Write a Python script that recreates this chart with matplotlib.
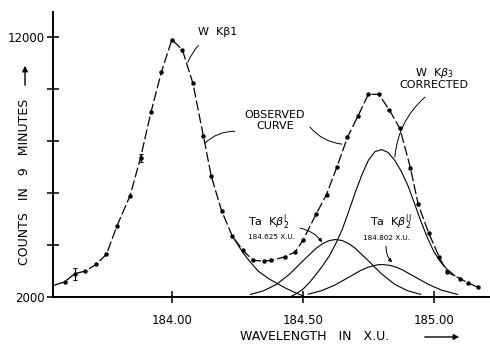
import numpy as np
import matplotlib.pyplot as plt

plt.rcParams['font.family'] = 'DejaVu Sans'
plt.rcParams['mathtext.fontset'] = 'dejavusans'

# observed curve (counts in 9 minutes vs wavelength in x.u.)
obs_x = [183.55, 183.59, 183.63, 183.67, 183.71, 183.75, 183.79, 183.84, 183.88,
         183.92, 183.96, 184.00, 184.04, 184.08, 184.12, 184.15, 184.19, 184.23,
         184.27, 184.31, 184.35, 184.38, 184.43, 184.47, 184.50, 184.55, 184.59,
         184.63, 184.67, 184.71, 184.75, 184.79, 184.83, 184.87, 184.91, 184.94,
         184.98, 185.02, 185.05, 185.10, 185.13, 185.17]
obs_y = [2450, 2580, 2900, 3000, 3250, 3640, 4730, 5890, 7350,
         9110, 10660, 11900, 11500, 10220, 8190, 6650, 5300, 4350,
         3800, 3410, 3380, 3410, 3540, 3730, 4180, 5180, 5940,
         7010, 8140, 8960, 9800, 9790, 9190, 8480, 6980, 5560,
         4460, 3540, 2960, 2710, 2540, 2370]

# error bars
err_x = [183.63, 183.88]
err_y = [2900, 7350]
err_h = [230, 160]

# W K-beta1 tail (solid)
kb1_x = [184.23, 184.27, 184.30, 184.33, 184.37, 184.43, 184.47, 184.50]
kb1_y = [4350, 3720, 3330, 2990, 2700, 2360, 2170, 2040]

# W K-beta3 corrected
kb3_x = [184.45, 184.475, 184.50, 184.525, 184.55, 184.575, 184.60, 184.625,
         184.65, 184.675, 184.70, 184.725, 184.75, 184.775, 184.80, 184.825,
         184.85, 184.875, 184.90, 184.925, 184.95, 184.975, 185.00, 185.025,
         185.05, 185.08]
kb3_y = [2000, 2130, 2300, 2560, 2870, 3200, 3570, 4040,
         4600, 5300, 6030, 6700, 7260, 7590, 7670, 7560,
         7260, 6840, 6300, 5620, 4920, 4280, 3740, 3350,
         3070, 2820]

# Ta K-beta2 I
ta1_x = [184.30, 184.35, 184.40, 184.45, 184.50, 184.55, 184.575, 184.60, 184.625,
         184.65, 184.675, 184.70, 184.75, 184.80, 184.85, 184.90, 184.95]
ta1_y = [2100, 2240, 2490, 2890, 3390, 3870, 4050, 4170, 4210,
         4170, 4050, 3870, 3390, 2890, 2490, 2240, 2100]

# Ta K-beta2 II
ta2_x = [184.52, 184.57, 184.62, 184.67, 184.72, 184.75, 184.78, 184.80, 184.83,
         184.86, 184.88, 184.93, 184.98, 185.03, 185.09]
ta2_y = [2110, 2240, 2450, 2730, 3020, 3150, 3230, 3250, 3220,
         3130, 3040, 2760, 2480, 2260, 2100]

fig = plt.figure(figsize=(4.9, 3.47), dpi=100)
ax = fig.add_axes([53/490, 50/347, 437/490, 285/347])

ax.plot(obs_x, obs_y, color='black', lw=0.9, ls=(0, (8, 2.5)),
        marker='o', ms=2.2, markevery=list(range(1, len(obs_x))))
ax.errorbar(err_x, err_y, yerr=err_h, fmt='none', ecolor='black',
            elinewidth=0.8, capsize=1.5, capthick=0.8)
ax.plot(kb1_x, kb1_y, color='black', lw=0.8)
ax.plot(kb3_x, kb3_y, color='black', lw=0.8)
ax.plot(ta1_x, ta1_y, color='black', lw=0.8)
ax.plot(ta2_x, ta2_y, color='black', lw=0.8)

ax.set_xlim(183.546, 185.214)
ax.set_ylim(2000, 12960)
ax.spines['top'].set_visible(False)
ax.spines['right'].set_visible(False)
ax.spines['left'].set_linewidth(1.4)
ax.spines['bottom'].set_linewidth(1.4)

ax.set_xticks([184.0, 184.5, 185.0])
ax.set_xticklabels(['184.00', '184.50', '185.00'])
ax.set_yticks([2000, 4000, 6000, 8000, 10000, 12000])
ax.set_yticklabels(['2000', '', '', '', '', '12000'])
ax.tick_params(direction='inout', length=8, width=1.1, labelsize=8.5)
ax.tick_params(axis='x', pad=8)
ax.tick_params(axis='y', pad=2)

lead = dict(arrowstyle='-', color='black', lw=0.7)

ax.annotate('W  K\u03b21', xy=(184.061, 11036), xytext=(184.099, 12191),
            fontsize=8, ha='left', va='center',
            arrowprops=dict(lead, connectionstyle='arc3,rad=0.2',
                            shrinkA=6, shrinkB=0))

ax.text(184.393, 8800, 'OBSERVED\nCURVE', fontsize=8, ha='center', va='center',
        linespacing=1.1)
ax.annotate('', xy=(184.126, 7917), xytext=(184.240, 8375),
            arrowprops=dict(lead, connectionstyle='arc3,rad=0.2',
                            shrinkA=0, shrinkB=0))
ax.annotate('', xy=(184.649, 7879), xytext=(184.527, 8534),
            arrowprops=dict(lead, connectionstyle='arc3,rad=0.2',
                            shrinkA=0, shrinkB=0))

ax.text(185.0, 10420, 'W  K$\\beta_3$\nCORRECTED', fontsize=8, ha='center',
        va='center', linespacing=1.0)
ax.annotate('', xy=(184.851, 7379), xytext=(184.966, 9688),
            arrowprops=dict(lead, connectionstyle='arc3,rad=0.2',
                            shrinkA=0, shrinkB=0))

ax.text(184.29, 4876, 'Ta  K$\\beta_2^{\\mathrm{I}}$', fontsize=8,
        ha='left', va='center')
ax.text(184.29, 4298, '184.625 X.U.', fontsize=5.2, ha='left', va='center')
ax.annotate('', xy=(184.573, 4106), xytext=(184.489, 4645),
            arrowprops=dict(arrowstyle='-|>', color='black', lw=0.7,
                            mutation_scale=5,
                            connectionstyle='arc3,rad=-0.2',
                            shrinkA=0, shrinkB=0))

ax.text(184.756, 4876, 'Ta  K$\\beta_2^{\\mathrm{II}}$', fontsize=8,
        ha='left', va='center')
ax.text(184.729, 4260, '184.802 X.U.', fontsize=5.2, ha='left', va='center')
ax.annotate('', xy=(184.840, 3336), xytext=(184.817, 3952),
            arrowprops=dict(arrowstyle='-|>', color='black', lw=0.7,
                            mutation_scale=5,
                            connectionstyle='arc3,rad=0.2',
                            shrinkA=0, shrinkB=0))

# axis titles
fig.text(240/490, 1 - 337/347, 'WAVELENGTH   IN   X.U.', fontsize=9,
         ha='left', va='center')
ax.annotate('', xy=(462/490, 1 - 337/347), xytext=(422/490, 1 - 337/347),
            xycoords='figure fraction', textcoords='figure fraction',
            arrowprops=dict(arrowstyle='-|>', color='black', lw=1.0,
                            mutation_scale=8))

fig.text(25/490, 1 - 265/347, 'COUNTS   IN   9   MINUTES', fontsize=9,
         rotation=90, ha='center', va='bottom')
ax.annotate('', xy=(25/490, 1 - 63/347), xytext=(25/490, 1 - 88/347),
            xycoords='figure fraction', textcoords='figure fraction',
            arrowprops=dict(arrowstyle='-|>', color='black', lw=1.0,
                            mutation_scale=8))

fig.savefig('out.png', dpi=100)
